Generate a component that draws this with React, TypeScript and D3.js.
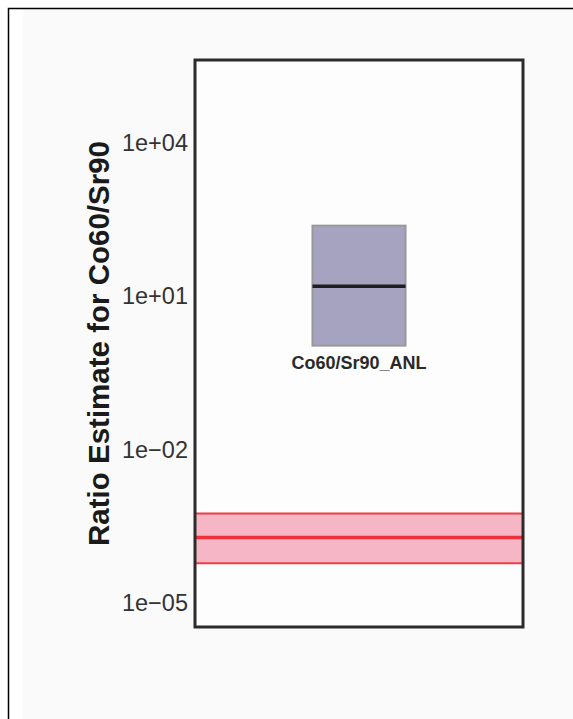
import React, { useEffect, useRef } from 'react';
import * as d3 from 'd3';

// box summary for the single sample
const categories = ['Co60/Sr90_ANL'];
const boxLow = [1.08];
const boxMedian = [15.6];
const boxHigh = [240];

// reference band (red)
const bandLow = 6e-5;
const bandMid = 1.9e-4;
const bandHigh = 5.6e-4;

const tickValues = [1e-5, 1e-2, 1e1, 1e4];
const tickLabels = ['1e\u221205', '1e\u221202', '1e+01', '1e+04'];

const App = () => {
  const svgRef = useRef<SVGSVGElement>(null);

  useEffect(() => {
    const width = 573;
    const height = 719;
    const plot = { left: 195, right: 523, top: 60, bottom: 627 };

    const svg = d3.select(svgRef.current);
    svg.selectAll('*').remove();

    // page background + outer frame
    svg.append('rect').attr('width', width).attr('height', height).attr('fill', '#ffffff');
    svg.append('rect').attr('x', 23).attr('y', 9).attr('width', width).attr('height', height).attr('fill', '#fafafa');
    svg.append('path')
      .attr('d', `M8.5,${height}V8.5H${width}`)
      .attr('fill', 'none')
      .attr('stroke', '#000')
      .attr('stroke-width', 1.5);

    // panel inside the frame
    svg.append('rect')
      .attr('x', plot.left).attr('y', plot.top)
      .attr('width', plot.right - plot.left).attr('height', plot.bottom - plot.top)
      .attr('fill', '#fdfdfd');

    const y = d3.scaleLog()
      .domain([Math.pow(10, -5.47), Math.pow(10, 5.62)])
      .range([plot.bottom, plot.top]);

    const x = d3.scaleBand()
      .domain(categories)
      .range([plot.left, plot.right])
      .paddingInner(0.2)
      .paddingOuter(1.01);

    // red reference band
    svg.append('rect')
      .attr('x', plot.left).attr('y', y(bandHigh))
      .attr('width', plot.right - plot.left).attr('height', y(bandLow) - y(bandHigh))
      .attr('fill', '#f7b6c5');
    [bandLow, bandHigh].forEach((v) => {
      svg.append('line')
        .attr('x1', plot.left).attr('x2', plot.right)
        .attr('y1', y(v)).attr('y2', y(v))
        .attr('stroke', '#ee3d44').attr('stroke-width', 2);
    });
    svg.append('line')
      .attr('x1', plot.left).attr('x2', plot.right)
      .attr('y1', y(bandMid)).attr('y2', y(bandMid))
      .attr('stroke', '#ee3039').attr('stroke-width', 3.5);

    // boxes
    const g = svg.append('g');
    categories.forEach((c, i) => {
      const x0 = x(c) as number;
      const bw = x.bandwidth();
      g.append('rect')
        .attr('x', x0).attr('y', y(boxHigh[i]))
        .attr('width', bw).attr('height', y(boxLow[i]) - y(boxHigh[i]))
        .attr('fill', '#a6a3c1')
        .attr('stroke', '#999999').attr('stroke-width', 2);
      g.append('line')
        .attr('x1', x0).attr('x2', x0 + bw)
        .attr('y1', y(boxMedian[i])).attr('y2', y(boxMedian[i]))
        .attr('stroke', '#1e1e1e').attr('stroke-width', 3.5);
      g.append('text')
        .attr('x', x0 + bw / 2)
        .attr('y', y(boxLow[i]) + 17)
        .attr('dy', '0.35em')
        .attr('text-anchor', 'middle')
        .attr('font-family', 'Liberation Sans, Arial, sans-serif')
        .attr('font-weight', 'bold')
        .attr('font-size', 18)
        .attr('fill', '#2a2a2a')
        .text(c);
    });

    // frame
    svg.append('rect')
      .attr('x', plot.left).attr('y', plot.top)
      .attr('width', plot.right - plot.left).attr('height', plot.bottom - plot.top)
      .attr('fill', 'none')
      .attr('stroke', '#2b2b2b').attr('stroke-width', 3);

    // y tick labels
    svg.selectAll('text.tick')
      .data(tickValues)
      .enter()
      .append('text')
      .attr('class', 'tick')
      .attr('x', 188)
      .attr('y', (d) => y(d))
      .attr('dy', '0.35em')
      .attr('text-anchor', 'end')
      .attr('font-family', 'Liberation Sans, Arial, sans-serif')
      .attr('font-size', 23.5)
      .attr('fill', '#333333')
      .text((d, i) => tickLabels[i]);

    // y axis title
    svg.append('text')
      .attr('transform', `translate(109,${(plot.top + plot.bottom) / 2}) rotate(-90)`)
      .attr('text-anchor', 'middle')
      .attr('font-family', 'Liberation Sans, Arial, sans-serif')
      .attr('font-weight', 'bold')
      .attr('font-size', 29.5)
      .attr('fill', '#1a1a1a')
      .text('Ratio Estimate for Co60/Sr90');
  }, []);

  return (
    <svg
      ref={svgRef}
      width={573}
      height={719}
      style={{ position: 'absolute', left: 0, top: 0 }}
    />
  );
};

export default App;
